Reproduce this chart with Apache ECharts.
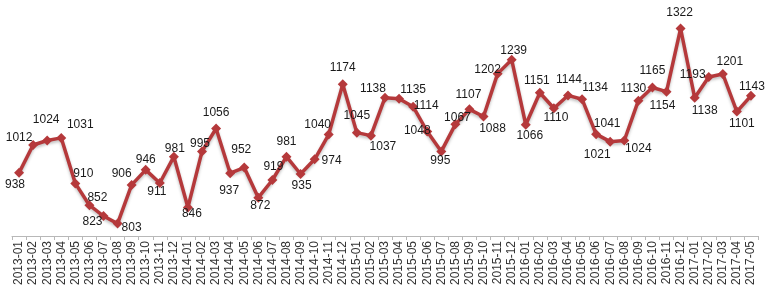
<!DOCTYPE html>
<html>
<head>
<meta charset="utf-8">
<script src="https://cdn.jsdelivr.net/npm/echarts@6/dist/echarts.min.js"></script>
<style>html,body{margin:0;padding:0;background:#fff}#c{width:770px;height:292px}</style>
</head>
<body>
<div id="c"></div>
<script>
const categories = ['2013-01','2013-02','2013-03','2013-04','2013-05','2013-06','2013-07','2013-08','2013-09','2013-10','2013-11','2013-12',
'2014-01','2014-02','2014-03','2014-04','2014-05','2014-06','2014-07','2014-08','2014-09','2014-10','2014-11','2014-12',
'2015-01','2015-02','2015-03','2015-04','2015-05','2015-06','2015-07','2015-08','2015-09','2015-10','2015-11','2015-12',
'2016-01','2016-02','2016-03','2016-04','2016-05','2016-06','2016-07','2016-08','2016-09','2016-10','2016-11','2016-12',
'2017-01','2017-02','2017-03','2017-04','2017-05'];
const values = [938,1012,1024,1031,910,852,823,803,906,946,911,981,
846,995,1056,937,952,872,919,981,935,974,1040,1174,
1045,1037,1138,1135,1114,1048,995,1067,1107,1088,1202,1239,
1066,1151,1110,1144,1134,1041,1021,1024,1130,1165,1154,1322,
1138,1193,1201,1101,1143];
// label placement offsets (style only): [dx, dy] of label centre from the point
const labelOffsets = [[-4,12],[-14,-7],[-1,-21],[19,-13],[8,-10],[8,-7],[-11,6],[14,4],[-10,-11],[0,-10],[-3,9],[1,-8],
[4,6],[-2,-8],[0,-16],[-1,17],[-3,-18],[2,8],[1,-13],[0,-15],[1,12],[17,1],[-11,-10],[0,-16],
[0,-17],[12,11],[-12,-9],[14,-9],[13,-1],[-10,-1],[-1,9],[2,-7],[-1,-15],[9,12],[-10,-4],[2,-9],
[4,11],[-3,-12],[2,9],[1,-16],[13,-11],[11,-10],[-13,13],[14,8],[-5,-12],[0,-17],[-4,14],[-1,-16],
[10,13],[-16,-2],[7,-12],[5,12],[1,-9]];

const chart = echarts.init(document.getElementById('c'), null, {renderer:'canvas'});
const seriesData = values.map((v,i)=>({
  value: v,
  label: {offset: labelOffsets[i]}
}));
chart.setOption({
  animation:false,
  backgroundColor:'#fff',
  grid:{left:12,right:12,top:18,bottom:56,containLabel:false},
  xAxis:{
    type:'category',
    data:categories,
    boundaryGap:true,
    axisLine:{lineStyle:{color:'#b8b8b8',width:1}},
    axisTick:{show:true,interval:0,length:4,lineStyle:{color:'#b8b8b8'}},
    axisLabel:{interval:0,rotate:90,color:'#333',fontFamily:'Liberation Sans, Arial, sans-serif',fontSize:12,margin:5}
  },
  yAxis:{
    type:'value',min:770,max:1350,show:false,splitLine:{show:false}
  },
  series:[{
    type:'line',
    data:seriesData,
    symbol:'diamond',
    symbolSize:10,
    lineStyle:{color:'#b5393b',width:3.5,shadowColor:'rgba(0,0,0,0.25)',shadowBlur:3,shadowOffsetY:2},
    itemStyle:{color:'#b5393b'},
    label:{show:true,position:'inside',align:'center',verticalAlign:'middle',
      color:'#1a1a1a',fontFamily:'Liberation Sans, Arial, sans-serif',fontSize:12}
  }]
});
</script>
</body>
</html>
